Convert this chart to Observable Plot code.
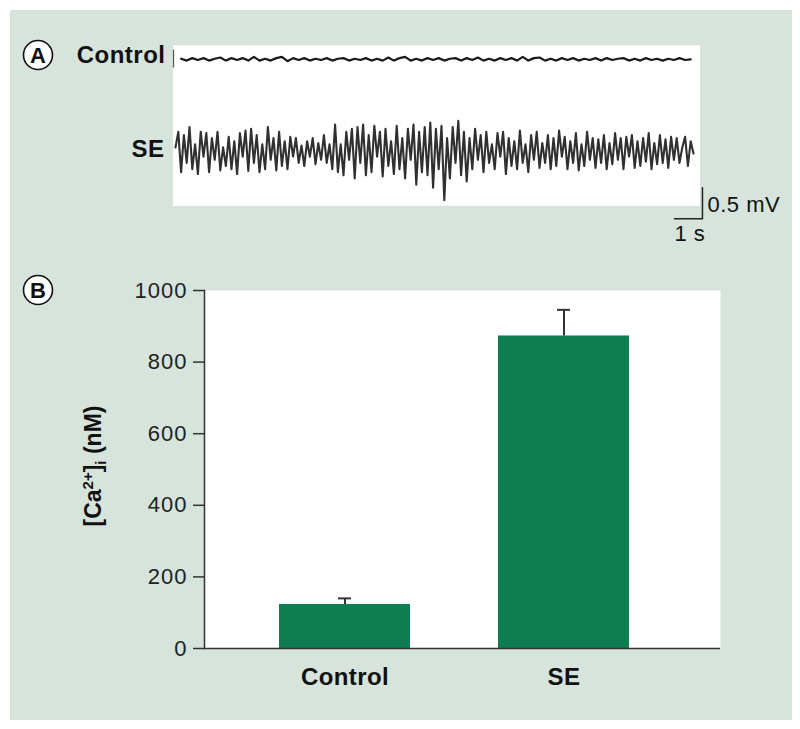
<!DOCTYPE html>
<html><head><meta charset="utf-8">
<script src="https://cdn.jsdelivr.net/npm/d3@7"></script>
<script src="https://cdn.jsdelivr.net/npm/@observablehq/plot@0.6"></script>
<style>
body{margin:0;background:#fff;}
#wrap{position:relative;width:800px;height:729px;background:#fff;overflow:hidden;font-family:"Liberation Sans",Arial,Helvetica,sans-serif;}
#panel{position:absolute;left:10px;top:10px;width:782px;height:710px;background:#d6e4dc;}
#a,#b{position:absolute;left:0;}
#a{top:0px;} #b{top:260px;}
#badges{position:absolute;left:0;top:0;pointer-events:none;}
</style></head><body>
<div id="wrap">
  <div id="panel"></div>
  <div id="a"></div>
  <div id="b"></div>
  <svg id="badges" width="800" height="729">
    <g font-family="Liberation Sans, Arial, sans-serif" font-weight="bold" font-size="22" text-anchor="middle" fill="#111">
      <circle cx="38" cy="55" r="14.5" fill="#fff" stroke="#111" stroke-width="1.6"></circle>
      <text x="38" y="63">A</text>
      <circle cx="38" cy="290" r="14.5" fill="#fff" stroke="#111" stroke-width="1.6"></circle>
      <text x="38" y="298">B</text>
    </g>
  </svg>
</div>
<script>
// ---------- Panel A: EEG traces (values in mV) ----------
const traceLabels = ["Control", "SE"];
const controlTrace = [0.01,-0.02,0.02,-0.01,0.02,-0.02,0.01,0.03,-0.02,0.02,-0.01,0.02,-0.02,0.04,-0.02,0.01,-0.02,0.02,0.04,-0.03,0.02,-0.01,0.02,-0.02,0.01,-0.01,0.02,-0.02,0.01,0.02,-0.02,0.01,-0.01,0.02,-0.02,0.01,-0.02,0.03,-0.02,0.02,0.04,-0.02,0.01,-0.02,0.02,-0.01,0.02,-0.02,0.01,0.02,-0.02,0.02,-0.01,0.03,-0.02,0.01,-0.02,0.02,-0.01,0.02,-0.02,0.04,-0.02,0.02,0.03,-0.02,0.01,-0.02,0.02,-0.01,0.02,-0.02,0.01,-0.01,0.02,-0.02,0.02,-0.01,0.01,0.02,-0.02,0.01,-0.02,0.02,-0.01,0.01,-0.02,0.01,-0.01,0.02,-0.01,0.0];
const seTrace = [
  0.05,0.3,-0.35,0.25,-0.2,0.38,-0.3,0.1,-0.38,0.3,-0.1,0.28,-0.35,0.2,-0.15,0.3,-0.32,0.05,-0.25,0.22,-0.3,0.15,-0.38,0.28,-0.1,0.32,-0.33,0.35,-0.2,0.25,-0.35,0.1,-0.3,0.38,-0.15,0.2,-0.32,0.3,-0.25,0.15,-0.3,0.22,
  -0.1,0.2,-0.2,0.08,-0.25,0.15,-0.1,0.2,-0.22,0.12,-0.15,0.25,-0.2,0.1,
  -0.3,0.42,-0.35,0.1,-0.4,0.3,-0.15,0.35,-0.45,0.38,-0.2,0.42,-0.4,0.25,-0.35,0.4,-0.1,0.3,-0.42,0.35,-0.25,0.15,-0.38,0.4,-0.3,0.2,-0.45,0.35,-0.15,0.42,-0.55,0.3,-0.35,0.38,-0.4,
  0.45,-0.6,0.35,-0.3,0.4,-0.8,0.2,-0.45,0.38,-0.2,0.48,-0.4,0.3,-0.5,
  0.2,-0.3,0.35,-0.15,0.25,-0.35,0.3,-0.2,0.1,-0.3,0.28,-0.1,0.3,-0.38,0.2,-0.25,0.15,-0.3,0.32,-0.2,0.1,-0.35,0.25,-0.15,0.3,-0.28,0.12,-0.2,0.25,
  -0.3,0.2,-0.25,0.32,-0.1,0.22,-0.3,0.15,-0.2,0.28,-0.32,0.1,-0.25,0.3,-0.15,0.2,-0.28,0.18,-0.2,0.25,-0.3,0.12,-0.22,0.28,-0.15,0.2,-0.3,0.22,-0.1,0.25,-0.28,0.15,-0.25,0.2,-0.18,0.28,-0.3,0.12,-0.22,0.25,-0.2,0.18,-0.28,0.22,-0.15,0.2,-0.2,0.05,
  0.22,-0.25,0.15,-0.05
];
const seStep = 0.1;        // s per sample
const controlStep = 0.2;   // s per sample
const controlStart = 0.2;  // s
const controlOffset = 1.47; // mV vertical offset of the control trace
const scaleBarTime = 1;     // s
const scaleBarVolt = 0.5;   // mV
const scaleBarLabels = ["0.5 mV", "1 s"];

// ---------- Panel B: bar chart ----------
const categories = ["Control", "SE"];
const means = [123, 873];
const errors = [17, 73];
const yTicks = [0, 200, 400, 600, 800, 1000];

// ---------- build panel A ----------
const seData = seTrace.map((v, i) => ({t: i * seStep, v}));
const ctlData = controlTrace.map((v, i) => ({t: controlStart + i * controlStep, v: v + controlOffset}));
const box = {x1: -0.07, x2: 18.75, y1: -0.9, y2: 1.69};
const barEnd = {t: 18.82, v: -1.1};
const scaleBar = [
  {t: barEnd.t - scaleBarTime, v: barEnd.v},
  {t: barEnd.t, v: barEnd.v},
  {t: barEnd.t, v: barEnd.v + scaleBarVolt}
];
const font = "Liberation Sans, Arial, Helvetica, sans-serif";

const plotA = Plot.plot({
  width: 800, height: 260,
  style: {background: "transparent", fontFamily: font, color: "#111"},
  x: {domain: [0, 18.5], range: [175, 693], axis: null},
  y: {domain: [-1.5, 2.4], range: [243, 1.2], axis: null},
  marks: [
    Plot.rect([box], {x1: "x1", x2: "x2", y1: "y1", y2: "y2", fill: "white"}),
    Plot.ruleX([box.x1], {y1: 1.33, y2: 1.62, stroke: "#555", strokeWidth: 1.2}),
    Plot.line(ctlData, {x: "t", y: "v", stroke: "#1a1a1a", strokeWidth: 2.2}),
    Plot.line(seData, {x: "t", y: "v", stroke: "#1a1a1a", strokeWidth: 2.1, strokeOpacity: 0.9}),
    Plot.line(scaleBar, {x: "t", y: "v", stroke: "#222", strokeWidth: 1.5}),
    Plot.text([traceLabels[0]], {x: 0, y: controlOffset, dx: -10, dy: -4, text: d => d, textAnchor: "end", fontSize: 24, fontWeight: "bold", fill: "#111"}),
    Plot.text([traceLabels[1]], {x: 0, y: 0, dx: -11, dy: -1, text: d => d, textAnchor: "end", fontSize: 24, fontWeight: "bold", fill: "#111"}),
    Plot.text([scaleBarLabels[0]], {x: barEnd.t, y: barEnd.v + 0.22, dx: 5, text: d => d, textAnchor: "start", fontSize: 22, fill: "#111"}),
    Plot.text([scaleBarLabels[1]], {x: barEnd.t - 0.45, y: -1.35, text: d => d, textAnchor: "middle", fontSize: 22, fill: "#111"})
  ]
});
document.getElementById("a").appendChild(plotA);
d3.select(plotA).selectAll("text").attr("letter-spacing", "0.5");

// ---------- build panel B ----------
const bars = categories.map((c, i) => ({c, m: means[i], e: errors[i]}));
const plotB = Plot.plot({
  width: 800, height: 440,
  marginLeft: 204, marginRight: 80, marginTop: 30, marginBottom: 52,
  style: {background: "transparent", fontFamily: font, color: "#222"},
  x: {domain: categories, range: [204, 704], paddingInner: 0.4, paddingOuter: 0.34, axis: null},
  y: {domain: [0, 1000], axis: null},
  marks: [
    Plot.frame({fill: "white", stroke: null}),
    Plot.barY(bars, {x: "c", y: "m", fill: "#0e7e52"}),
    Plot.ruleX(bars, {x: "c", y1: "m", y2: d => d.m + d.e, stroke: "#333", strokeWidth: 2}),
    Plot.tickY(bars, {x: "c", y: d => d.m + d.e, insetLeft: 59, insetRight: 59, stroke: "#333", strokeWidth: 2}),
    Plot.frame({anchor: "left", stroke: "#333", strokeWidth: 1.5}),
    Plot.ruleY([0], {stroke: "#333", strokeWidth: 1.5}),
    Plot.axisY({ticks: yTicks, tickFormat: "d", tickSize: 11, tickPadding: 6, fontSize: 22, label: null, stroke: "#333", strokeWidth: 1.5, fill: "#222"}),
    Plot.axisX({tickSize: 0, tickPadding: 19, fontSize: 24, fontWeight: "bold", label: null, fill: "#111"})
  ]
});
document.getElementById("b").appendChild(plotB);
d3.select(plotB).selectAll('g[aria-label="y-axis tick label"] text').attr("letter-spacing", "1");
d3.select(plotB).selectAll('g[aria-label="x-axis tick label"] text').attr("letter-spacing", "0.4");

// y-axis title with superscript / subscript
const yTitle = d3.select(plotB).append("text")
  .attr("transform", "translate(101,206) rotate(-90)")
  .attr("text-anchor", "middle")
  .attr("font-family", font)
  .attr("font-weight", "bold")
  .attr("font-size", 23)
  .attr("fill", "#111");
yTitle.append("tspan").text("[Ca");
yTitle.append("tspan").attr("font-size", 15).attr("dy", -8).text("2+");
yTitle.append("tspan").attr("dy", 8).text("]");
yTitle.append("tspan").attr("font-size", 15).attr("dy", 5).text("i");
yTitle.append("tspan").attr("dy", -5).text(" (nM)");
</script>
</body></html>
